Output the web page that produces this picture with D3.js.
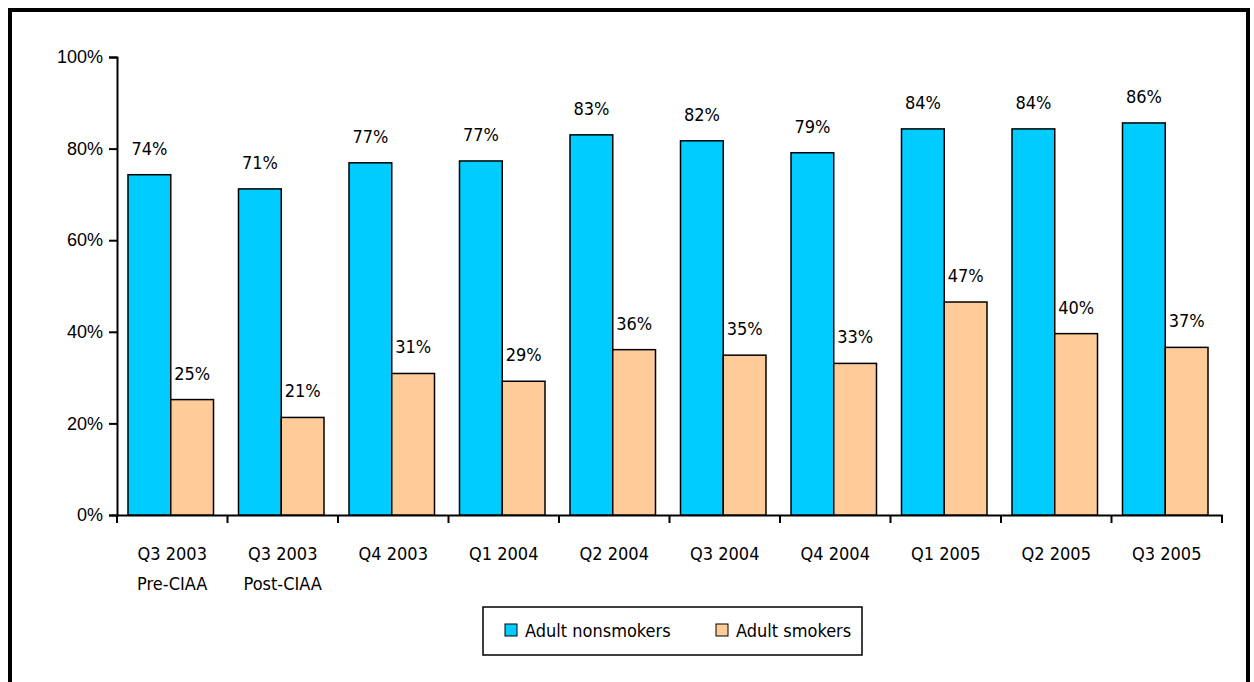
<!DOCTYPE html>
<html><head><meta charset="utf-8">
<script src="https://cdn.jsdelivr.net/npm/d3@7"></script>
<style>body{margin:0;background:#fff}svg{font-family:"DejaVu Sans Condensed","DejaVu Sans",sans-serif;font-stretch:condensed}</style>
</head><body><svg id="chart" width="1254" height="682"></svg>
<script>
const categories = [["Q3 2003","Pre-CIAA"],["Q3 2003","Post-CIAA"],["Q4 2003"],["Q1 2004"],["Q2 2004"],["Q3 2004"],["Q4 2004"],["Q1 2005"],["Q2 2005"],["Q3 2005"]];
const nonsmokers = [74.3, 71.2, 76.9, 77.3, 83.0, 81.7, 79.1, 84.3, 84.3, 85.6];
const smokers = [25.2, 21.3, 30.9, 29.2, 36.1, 34.9, 33.1, 46.5, 39.6, 36.6];
const seriesNames = ["Adult nonsmokers", "Adult smokers"];
const colors = ["#00ccff", "#ffcc99"];
const yTicks = [0, 20, 40, 60, 80, 100];
const fs = 18;

const svg = d3.select("#chart");
svg.append("rect").attr("x", 10).attr("y", 10).attr("width", 1238).attr("height", 690)
  .attr("fill", "none").attr("stroke", "#000").attr("stroke-width", 4);

const x = d3.scaleBand().domain(d3.range(categories.length)).range([117, 1222]);
const y = d3.scaleLinear().domain([0, 100]).range([515, 57]);
const inner = d3.scaleBand().domain([0, 1]).range([11, x.bandwidth() - 14]);

const yAxis = svg.append("g").attr("transform", "translate(117,0)")
  .call(d3.axisLeft(y).tickValues(yTicks).tickFormat(d => d + "%").tickSize(8).tickPadding(6));
const xAxis = svg.append("g").attr("transform", "translate(0,515)")
  .call(d3.axisBottom(x).tickValues([]).tickSizeOuter(0));
xAxis.selectAll(".tick-mark").data(d3.range(categories.length + 1)).join("line")
  .attr("x1", i => 117 + i * x.step()).attr("x2", i => 117 + i * x.step())
  .attr("y1", 0).attr("y2", 8).attr("stroke", "#000").attr("stroke-width", 2);
svg.selectAll(".domain").attr("stroke-width", 2);
yAxis.selectAll("line").attr("stroke-width", 2);
yAxis.selectAll("text").attr("font-size", fs).attr("font-family", null).attr("fill", "#000");

categories.forEach((c, i) => {
  const t = svg.append("text").attr("x", x(i) + x.bandwidth() / 2).attr("y", 560)
    .attr("text-anchor", "middle").attr("font-size", fs);
  c.forEach((s, k) => t.append("tspan").attr("x", x(i) + x.bandwidth() / 2).attr("dy", k ? 30 : 0).text(s));
});

[nonsmokers, smokers].forEach((vals, s) => {
  const g = svg.append("g");
  g.selectAll("rect").data(vals).join("rect")
    .attr("x", (d, i) => x(i) + inner(s)).attr("width", inner.bandwidth())
    .attr("y", d => y(d)).attr("height", d => y(0) - y(d))
    .attr("fill", colors[s]).attr("stroke", "#000").attr("stroke-width", 1.5);
  g.selectAll("text").data(vals).join("text")
    .attr("x", (d, i) => x(i) + inner(s) + inner.bandwidth() / 2).attr("y", d => y(d) - 20)
    .attr("text-anchor", "middle").attr("font-size", fs).text(d => Math.round(d) + "%");
});

const lg = svg.append("g");
lg.append("rect").attr("x", 483).attr("y", 607).attr("width", 379).attr("height", 48)
  .attr("fill", "#fff").attr("stroke", "#000").attr("stroke-width", 1.5);
const lx = [505, 716];
seriesNames.forEach((n, s) => {
  lg.append("rect").attr("x", lx[s]).attr("y", 624).attr("width", 12).attr("height", 12)
    .attr("fill", colors[s]).attr("stroke", "#000");
  lg.append("text").attr("x", lx[s] + 20).attr("y", 637).attr("font-size", fs).text(n);
});
</script></body></html>
